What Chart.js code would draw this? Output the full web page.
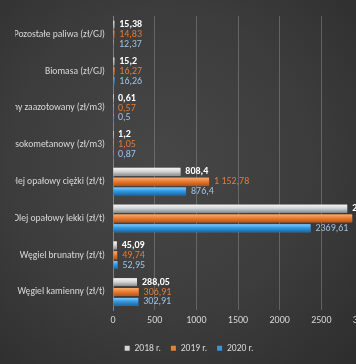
<!DOCTYPE html>
<html>
<head>
<meta charset="utf-8">
<script src="https://cdn.jsdelivr.net/npm/chart.js@4/dist/chart.umd.min.js"></script>
<style>
  html, body { margin: 0; padding: 0; width: 356px; height: 364px; overflow: hidden; }
  body { background: radial-gradient(ellipse at 45% 45%, #474747 0%, #3c3c3c 55%, #2d2d2d 100%); position: relative; }
  #wrap { position: absolute; left: -60px; top: 0; width: 460px; height: 364px; }
</style>
</head>
<body>
<div id="wrap"><canvas id="c" width="460" height="364"></canvas></div>
<script>
const categories = [
  'Pozostałe paliwa (zł/GJ)',
  'Biomasa (zł/GJ)',
  'Gaz ziemny zaazotowany (zł/m3)',
  'Gaz ziemny wysokometanowy (zł/m3)',
  'Olej opałowy ciężki (zł/t)',
  'Olej opałowy lekki (zł/t)',
  'Węgiel brunatny (zł/t)',
  'Węgiel kamienny (zł/t)'
];
const values2018 = [15.38, 15.2, 0.61, 1.2, 808.4, 2810, 45.09, 288.05];
const values2019 = [14.83, 16.27, 0.57, 1.05, 1152.78, 2870, 49.74, 306.91];
const values2020 = [12.37, 16.26, 0.5, 0.87, 876.4, 2369.61, 52.95, 302.91];
const seriesNames = ['2018 r.', '2019 r.', '2020 r.'];
const xTickMax = 3000;
const xTickStep = 500;

const FONT = "Carlito, 'Liberation Sans', Arial, sans-serif";
const barStyles = [
  { top: '#f4f4f4', mid: '#d6d6d6', bot: '#8c8c8c', label: '#ffffff', bold: true, group: false },
  { top: '#f7ad6e', mid: '#ed7d31', bot: '#b4561a', label: '#e07b39', bold: false, group: true },
  { top: '#86c9f5', mid: '#2f9ae4', bot: '#1b67a6', label: '#9dc3e6', bold: false, group: false }
];

function fmt(v, group) {
  const s = v.toFixed(2).replace(/\.?0+$/, '');
  const parts = s.split('.');
  if (group) parts[0] = parts[0].replace(/\B(?=(\d{3})+(?!\d))/g, ' ');
  return parts.join(',');
}

const barPlugin = {
  id: 'barDeco',
  afterDatasetsDraw(chart) {
    const ctx = chart.ctx;
    chart.data.datasets.forEach((ds, di) => {
      const meta = chart.getDatasetMeta(di);
      const st = barStyles[di];
      meta.data.forEach((el, i) => {
        const p = el.getProps(['x', 'y', 'base', 'height'], true);
        const top = p.y - p.height / 2;
        const g = ctx.createLinearGradient(0, top, 0, top + p.height);
        g.addColorStop(0, st.top);
        g.addColorStop(0.45, st.mid);
        g.addColorStop(1, st.bot);
        ctx.save();
        ctx.fillStyle = g;
        ctx.fillRect(p.base, top, p.x - p.base, p.height);
        ctx.restore();
        ctx.save();
        ctx.font = (st.bold ? 'bold ' : '') + '10px ' + FONT;
        ctx.fillStyle = st.label;
        ctx.textAlign = 'left';
        ctx.textBaseline = 'middle';
        ctx.fillText(fmt(ds.data[i], st.group), p.x + 5, p.y);
        ctx.restore();
      });
    });
  }
};

new Chart(document.getElementById('c'), {
  type: 'bar',
  data: {
    labels: categories,
    datasets: [
      { label: seriesNames[0], data: values2018, backgroundColor: barStyles[0].mid },
      { label: seriesNames[1], data: values2019, backgroundColor: barStyles[1].mid },
      { label: seriesNames[2], data: values2020, backgroundColor: barStyles[2].mid }
    ]
  },
  options: {
    indexAxis: 'y',
    responsive: false,
    animation: false,
    devicePixelRatio: 1,
    datasets: { bar: { categoryPercentage: 0.8, barPercentage: 0.8 } },
    layout: { padding: { top: 16, left: 75, right: 37, bottom: 1 } },
    scales: {
      y: {
        grid: { display: false, drawTicks: false },
        border: { color: '#808080', width: 1 },
        ticks: { color: '#d9d9d9', font: { family: FONT, size: 9.6 }, padding: 8, autoSkip: false },
        afterFit(scale) { scale.width = 98; }
      },
      x: {
        min: 0, max: xTickMax,
        grid: { color: 'rgba(150,150,150,0.45)', drawTicks: false, lineWidth: 1 },
        border: { display: false },
        ticks: { stepSize: xTickStep, color: '#d9d9d9', font: { family: FONT, size: 10 }, padding: 4,
                 callback: v => String(v) },
        afterFit(scale) { scale.height += 3; }
      }
    },
    plugins: {
      tooltip: { enabled: false },
      legend: {
        position: 'bottom',
        labels: {
          color: '#d9d9d9',
          font: { family: FONT, size: 9.6 },
          boxWidth: 5, boxHeight: 5, padding: 10,
          generateLabels(chart) {
            return chart.data.datasets.map((ds, i) => ({
              text: ds.label, fillStyle: barStyles[i].mid, strokeStyle: barStyles[i].mid,
              lineWidth: 0, datasetIndex: i, fontColor: '#d9d9d9'
            }));
          }
        }
      }
    }
  },
  plugins: [barPlugin]
});
</script>
</body>
</html>
